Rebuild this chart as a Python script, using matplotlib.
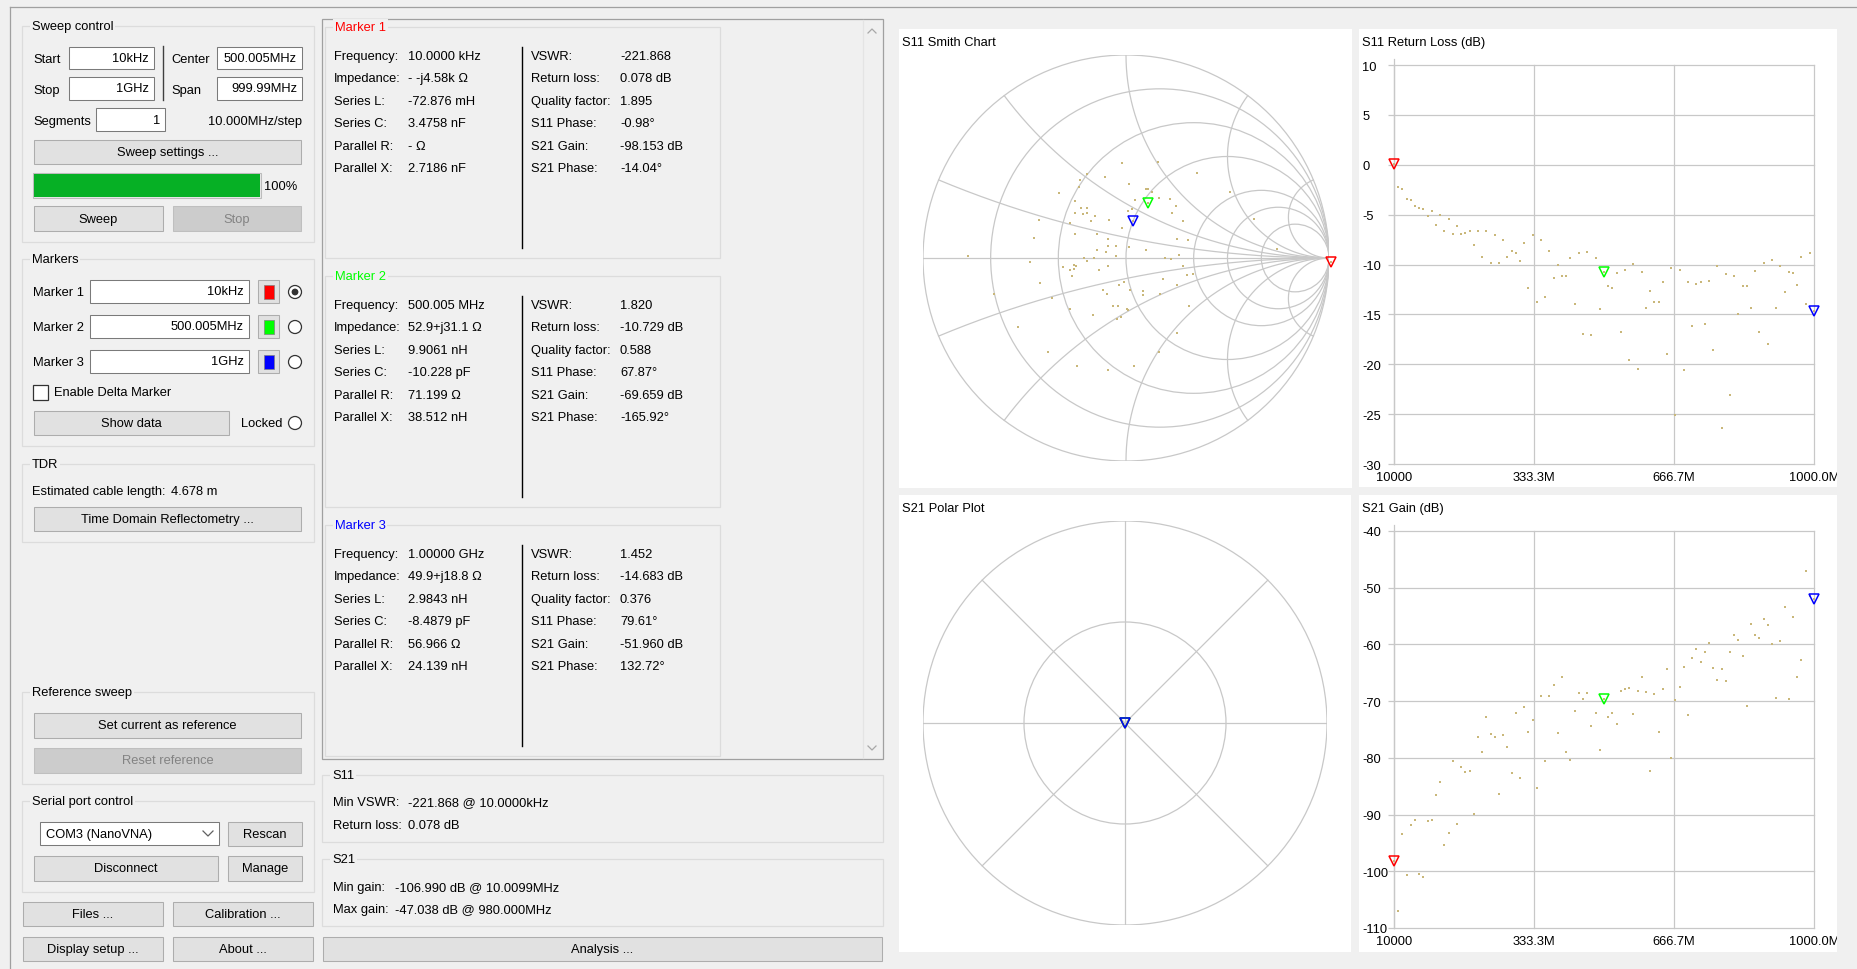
import numpy as np
import matplotlib
matplotlib.use('Agg')
import matplotlib.pyplot as plt
from matplotlib.patches import Rectangle, Circle

W, H = 1858, 970
FS = 9.3
BG = '#f0f0f0'
GRID = '#c8c8c8'
DOT = '#c9b77a'
plt.rcParams['font.family'] = ['Liberation Sans', 'DejaVu Sans']

# Sweep settings
start_hz = 10e3
stop_hz = 1e9
n_points = 101

# Markers
marker_names = ['Marker 1', 'Marker 2', 'Marker 3']
marker_colors = ['#ff0000', '#00ff00', '#0000ff']
marker_entry = ['10kHz', '500.005MHz', '1GHz']
marker_index = [0, 50, 100]
marker_freq = ['10.0000 kHz', '500.005 MHz', '1.00000 GHz']
marker_impedance = ['- -j4.58k Ω', '52.9+j31.1 Ω', '49.9+j18.8 Ω']
marker_series_l = ['-72.876 mH', '9.9061 nH', '2.9843 nH']
marker_series_c = ['3.4758 nF', '-10.228 pF', '-8.4879 pF']
marker_parallel_r = ['- Ω', '71.199 Ω', '56.966 Ω']
marker_parallel_x = ['2.7186 nF', '38.512 nH', '24.139 nH']
marker_vswr = [-221.868, 1.820, 1.452]
marker_return_loss = [0.078, -10.729, -14.683]
marker_q = [1.895, 0.588, 0.376]
marker_s11_phase = [-0.98, 67.87, 79.61]
marker_s21_gain = [-98.153, -69.659, -51.960]
marker_s21_phase = [-14.04, -165.92, 132.72]

# S11 return loss (dB), one value per sweep point
return_loss = [0.078, -2.23, -2.43, -3.40, -3.50, -4.13, -4.33, -4.47, -5.13, -4.67,
               -6.00, -5.07, -6.67, -5.40, -6.93, -6.13, -6.93, -6.80, -6.60, -8.00,
               -6.67, -9.20, -6.60, -9.80, -7.07, -9.80, -7.53, -9.20, -8.60, -8.87,
               -9.67, -7.80, -12.40, -7.07, -13.73, -7.53, -13.27, -8.60, -11.33, -10.07,
               -11.20, -11.20, -9.33, -13.93, -8.87, -16.93, -8.73, -17.07, -9.33, -14.47,
               -10.729, -12.13, -12.40, -10.87, -16.80, -10.53, -19.53, -9.93, -20.47, -10.73,
               -14.33, -12.67, -13.80, -13.80, -11.80, -18.93, -10.40, -25.13, -10.53, -20.60,
               -11.80, -16.20, -11.93, -11.80, -15.93, -11.67, -18.60, -10.13, -26.40, -11.00,
               -23.13, -11.20, -14.93, -12.13, -12.13, -14.40, -10.67, -16.80, -9.80, -18.00,
               -9.53, -14.33, -10.13, -12.73, -10.73, -10.87, -12.07, -9.20, -13.93, -8.87,
               -14.683]

# S21 gain (dB)
s21_gain = [-98.153, -106.990, -93.34, -100.67, -91.88, -90.88, -100.49, -101.08, -91.11, -90.88,
            -86.48, -84.26, -95.28, -93.17, -80.62, -91.70, -81.68, -82.50, -82.32, -89.82,
            -76.28, -78.98, -72.71, -75.87, -76.28, -86.31, -76.05, -78.16, -82.73, -72.12,
            -83.55, -71.07, -75.46, -73.35, -85.25, -69.13, -80.62, -69.13, -67.08, -75.64,
            -65.67, -78.98, -80.45, -71.65, -68.55, -69.60, -68.55, -74.41, -72.12, -78.57,
            -69.659, -72.71, -72.12, -74.00, -68.14, -67.84, -67.73, -72.30, -68.14, -65.79,
            -68.31, -82.32, -68.72, -75.46, -67.84, -64.38, -80.03, -69.84, -67.55, -63.92,
            -72.53, -62.45, -60.81, -63.15, -61.40, -59.75, -64.15, -66.26, -64.33, -66.49,
            -61.40, -58.29, -59.17, -62.10, -70.89, -56.41, -58.29, -58.87, -55.53, -56.59,
            -59.93, -69.43, -59.34, -53.48, -69.60, -55.18, -65.79, -62.68, -47.038, -51.43,
            -51.960]

# S11 reflection coefficient points (real, imag)
smith_re = [-0.021, 0.160, 0.351, -0.194, -0.104, -0.227, 0.015, -0.232, -0.328, 0.107,
            0.097, 0.127, 0.514, 0.044, 0.165, 0.217, -0.252, 0.245, -0.222, -0.194,
            0.028, 0.008, -0.249, -0.211, -0.191, 0.229, -0.153, -0.170, 0.632, -0.430,
            -0.084, 0.280, -0.275, -0.020, -0.252, -0.145, -0.454, -0.091, 0.252, 0.303,
            -0.048, -0.091, 0.013, 0.100, -0.142, -0.097, 0.744, -0.779, 0.263, -0.051,
            -0.207, -0.158, 0.193, 0.222, -0.193, -0.472, -0.255, -0.247, -0.309, -0.258,
            -0.277, -0.091, 0.280, -0.133, 0.329, 0.300, -0.265, 0.183, -0.008, -0.426,
            -0.033, 0.250, -0.652, -0.114, 0.021, 0.084, -0.095, 0.084, 0.166, -0.365,
            -0.063, -0.038, 0.003, 0.012, -0.277, 0.311, -0.165, -0.025, -0.043, -0.530,
            0.252, -0.385, 0.165, -0.240, 0.038, -0.091]
smith_im = [0.469, 0.474, 0.421, 0.415, 0.398, 0.385, 0.364, 0.352, 0.318, 0.342,
            0.339, 0.323, 0.323, 0.288, 0.298, 0.291, 0.281, 0.257, 0.247, 0.247,
            0.240, 0.232, 0.224, 0.219, 0.224, 0.222, 0.206, 0.183, 0.194, 0.188,
            0.188, 0.183, 0.170, 0.147, 0.117, 0.117, 0.100, 0.094, 0.094, 0.087,
            0.058, 0.061, 0.053, 0.041, 0.041, 0.028, 0.046, 0.012, 0.016, 0.010,
            0.000, 0.000, 0.000, -0.007, -0.016, -0.018, -0.036, -0.041, -0.046, -0.053,
            -0.059, -0.041, -0.041, -0.058, -0.077, -0.082, -0.087, -0.105, -0.119, -0.123,
            -0.135, -0.135, -0.176, -0.156, -0.160, -0.165, -0.176, -0.183, -0.176, -0.198,
            -0.237, -0.234, -0.253, -0.257, -0.253, -0.234, -0.280, -0.291, -0.300, -0.341,
            -0.369, -0.463, -0.461, -0.533, -0.533, -0.550]

smith_r = [0.2, 0.5, 1, 2, 3, 5]
smith_x = [0.2, 0.5, 1, 2, 5]
polar_rings = [0.5, 1.0]
polar_spokes = [0, 45, 90, 135]

freqs = np.linspace(start_hz, stop_hz, n_points)
span = stop_hz - start_hz
xtick_hz = [start_hz, start_hz + span / 3, start_hz + 2 * span / 3, stop_hz]
xtick_labels = ['%d' % start_hz] + ['%.1fM' % (v / 1e6) for v in xtick_hz[1:]]

fig = plt.figure(figsize=(W / 100, H / 100), dpi=100)
fig.patch.set_facecolor(BG)
ui = fig.add_axes([0, 0, 1, 1])
ui.set_xlim(0, W)
ui.set_ylim(H, 0)
ui.axis('off')
ui.set_zorder(0)


def rect(x0, y0, x1, y1, fc='none', ec='none', lw=0.75, z=1):
    p = Rectangle((x0, y0), x1 - x0, y1 - y0, facecolor=fc, edgecolor=ec,
                  linewidth=lw, zorder=z)
    ui.add_patch(p)
    return p


def text(x, y, s, ha='left', color='black', size=FS, **kw):
    ui.text(x, y, s, ha=ha, va='center', color=color, fontsize=size, zorder=5, **kw)


def button(x0, y0, x1, y1, s, enabled=True):
    if enabled:
        rect(x0, y0, x1, y1, fc='#e1e1e1', ec='#adadad')
        text((x0 + x1) / 2, (y0 + y1) / 2, s, ha='center')
    else:
        rect(x0, y0, x1, y1, fc='#cccccc', ec='#bfbfbf')
        text((x0 + x1) / 2, (y0 + y1) / 2, s, ha='center', color='#838383')


def entry(x0, y0, x1, y1, s):
    rect(x0, y0, x1, y1, fc='white', ec='#7a7a7a')
    text(x1 - 5, (y0 + y1) / 2, s, ha='right')


def group(x0, y0, x1, y1, title, color='black'):
    rect(x0, y0, x1, y1, ec='#dcdcdc', lw=0.9)
    ui.text(x0 + 10, y0, title, ha='left', va='center', color=color, fontsize=FS, zorder=5,
            bbox=dict(boxstyle='square,pad=0.12', fc=BG, ec='none'))


def radio(cx, cy, checked=False):
    ui.add_patch(Circle((cx, cy), 6.5, fc='white', ec='#333333', lw=0.9, zorder=2))
    if checked:
        ui.add_patch(Circle((cx, cy), 3.4, fc='#333333', ec='none', zorder=3))


def px_axes(x0, y0, x1, y1):
    ax = fig.add_axes([x0 / W, 1 - y1 / H, (x1 - x0) / W, (y1 - y0) / H])
    ax.set_zorder(2)
    ax.patch.set_alpha(0)
    return ax


# window frame
ui.plot([10, W], [8, 8], color='#a0a0a0', lw=0.9)
ui.plot([10, 10], [8, H], color='#a0a0a0', lw=0.9)

# ---- left column: sweep control
group(22, 27, 314, 243, 'Sweep control')
text(33, 60, 'Start')
entry(69, 48, 154, 70, '10kHz')
text(33, 91, 'Stop')
entry(69, 78, 154, 101, '1GHz')
ui.plot([163, 163], [47, 101], color='#404040', lw=1.0)
text(171, 60, 'Center')
entry(217, 48, 302, 70, '500.005MHz')
text(171, 91, 'Span')
entry(217, 78, 302, 101, '999.99MHz')
text(33, 122, 'Segments')
entry(96, 109, 165, 132, '1')
text(302, 122, '10.000MHz/step', ha='right')
button(34, 141, 301, 165, 'Sweep settings ...')
rect(33, 174, 261, 199, fc='#e6e6e6', ec='#bcbcbc')
rect(34, 175, 260, 198, fc='#06b025')
text(264, 187, '100%')
button(34, 207, 163, 232, 'Sweep')
button(173, 207, 301, 232, 'Stop', enabled=False)

# markers
group(22, 260, 314, 447, 'Markers')
for i, yc in enumerate([293, 328, 363]):
    text(33, yc, marker_names[i])
    entry(90, yc - 12, 249, yc + 11, marker_entry[i])
    rect(258, yc - 12, 279, yc + 11, fc='#e1e1e1', ec='#adadad')
    rect(264, yc - 7, 274, yc + 7, fc=marker_colors[i], ec='#808080', lw=0.5, z=2)
    radio(295, yc, checked=(i == 0))
rect(33, 386, 48, 401, fc='white', ec='#333333', lw=0.9)
text(54, 393, 'Enable Delta Marker')
button(34, 412, 229, 436, 'Show data')
text(241, 424, 'Locked')
radio(295, 424)

# TDR
group(22, 465, 314, 543, 'TDR')
text(32, 492, 'Estimated cable length:')
text(171, 492, '4.678 m')
button(34, 508, 301, 532, 'Time Domain Reflectometry ...')

# reference sweep
group(22, 693, 314, 785, 'Reference sweep')
button(34, 714, 301, 739, 'Set current as reference')
button(34, 749, 301, 774, 'Reset reference', enabled=False)

# serial port
group(22, 802, 314, 893, 'Serial port control')
rect(40, 823, 219, 846, fc='white', ec='#7a7a7a')
text(46, 835, 'COM3 (NanoVNA)')
ui.plot([203, 208, 213], [832, 837, 832], color='#606060', lw=0.9)
button(228, 823, 302, 847, 'Rescan')
button(34, 857, 218, 882, 'Disconnect')
button(228, 857, 302, 882, 'Manage')

button(23, 903, 163, 927, 'Files ...')
button(173, 903, 313, 927, 'Calibration ...')
button(23, 938, 163, 962, 'Display setup ...')
button(173, 938, 313, 962, 'About ...')

# ---- middle column: marker readouts
rect(322, 20, 883, 760, ec='#a0a0a0', lw=0.9)
ui.plot([863, 863], [21, 759], color='#e4e4e4', lw=0.9)
ui.plot([868, 872, 876], [34, 30, 34], color='#a8a8a8', lw=0.9)
ui.plot([868, 872, 876], [747, 751, 747], color='#a8a8a8', lw=0.9)

left_labels = ['Frequency:', 'Impedance:', 'Series L:', 'Series C:', 'Parallel R:', 'Parallel X:']
right_labels = ['VSWR:', 'Return loss:', 'Quality factor:', 'S11 Phase:', 'S21 Gain:', 'S21 Phase:']
for i in range(3):
    dy = 249 * i
    group(325, 28 + dy, 720, 259 + dy, marker_names[i], color=marker_colors[i])
    left_vals = [marker_freq[i], marker_impedance[i], marker_series_l[i],
                 marker_series_c[i], marker_parallel_r[i], marker_parallel_x[i]]
    right_vals = ['%.3f' % marker_vswr[i], '%.3f dB' % marker_return_loss[i],
                  '%.3f' % marker_q[i], '%.2f°' % marker_s11_phase[i],
                  '%.3f dB' % marker_s21_gain[i], '%.2f°' % marker_s21_phase[i]]
    for k in range(6):
        yc = 57 + dy + 22.4 * k
        text(334, yc, left_labels[k])
        text(408, yc, left_vals[k])
        text(531, yc, right_labels[k])
        text(620, yc, right_vals[k])
    ui.plot([522, 522], [48 + dy, 249 + dy], color='black', lw=1.0)

group(322, 776, 883, 843, 'S11')
text(333, 803, 'Min VSWR:')
text(408, 803, '%.3f @ 10.0000kHz' % min(marker_vswr))
text(333, 826, 'Return loss:')
text(408, 826, '%.3f dB' % marker_return_loss[0])

gmin = int(np.argmin(s21_gain))
gmax = int(np.argmax(s21_gain))
group(322, 860, 883, 927, 'S21')
text(333, 888, 'Min gain:')
text(395, 888, '%.3f dB @ %.4fMHz' % (s21_gain[gmin], freqs[gmin] / 1e6))
text(333, 910, 'Max gain:')
text(395, 910, '%.3f dB @ %.3fMHz' % (s21_gain[gmax], freqs[gmax] / 1e6))
button(323, 938, 882, 962, 'Analysis ...')

# ---- chart panels
smith_panel = rect(899, 30, 1352, 489, fc='white')
rl_panel = rect(1359, 30, 1837, 488, fc='white')
polar_panel = rect(899, 496, 1351, 953, fc='white')
gain_panel = rect(1359, 496, 1837, 953, fc='white')
text(902, 43, 'S11 Smith Chart')
text(1362, 43, 'S11 Return Loss (dB)')
text(902, 509, 'S21 Polar Plot')
text(1362, 509, 'S21 Gain (dB)')


def draw_marker(ax, x, y, color):
    ax.plot([x], [y], ls='none', marker='v', ms=6.5, mfc='none', mec=color,
            mew=1.1, clip_on=False, zorder=4)


def sweep_chart(y0, y1, ylim, yticks, values, marker_vals, panel):
    ax = px_axes(1394, y0, 1814, y1)
    ax.set_xlim(freqs[0], freqs[-1])
    ax.set_ylim(*ylim)
    ax.set_xticks(xtick_hz, xtick_labels)
    ax.set_yticks(yticks, ['%d' % v for v in yticks])
    ax.grid(True, color=GRID, lw=0.9)
    for sp in ax.spines.values():
        sp.set_visible(False)
    ax.tick_params(axis='x', length=0, pad=4.7, labelsize=FS)
    ax.tick_params(axis='y', length=4.3, width=0.9, color=GRID, pad=18.7, labelsize=FS)
    for lab in ax.get_yticklabels():
        lab.set_horizontalalignment('left')
    for gl in ax.get_xgridlines() + ax.get_ygridlines():
        gl.set_clip_on(False)
    ax.get_xticklabels()[-1].set_clip_path(panel)
    ax.axvline(freqs[0], ymin=0, ymax=1 + 6.0 / (y1 - y0), color=GRID, lw=0.9, clip_on=False)
    ax.plot(freqs, values, ls='none', marker='s', ms=2.1, mew=0, color=DOT, clip_on=False)
    for i in range(3):
        draw_marker(ax, freqs[marker_index[i]], marker_vals[i], marker_colors[i])
    return ax


sweep_chart(66, 465, (-30, 10), list(range(10, -31, -5)), return_loss, marker_return_loss, rl_panel)
sweep_chart(532, 929, (-110, -40), list(range(-40, -111, -10)), s21_gain, marker_s21_gain, gain_panel)

# Smith chart
sm = px_axes(1126 - 203, 259 - 203, 1126 + 203, 259 + 203)
sm.set_xlim(-1, 1)
sm.set_ylim(-1, 1)
sm.axis('off')
sm.add_patch(Circle((0, 0), 1, fill=False, ec=GRID, lw=0.9))
sm.plot([-1, 1], [0, 0], color=GRID, lw=0.9)
for r in smith_r:
    sm.add_patch(Circle((r / (1 + r), 0), 1 / (1 + r), fill=False, ec=GRID, lw=0.9))
res = np.tan(np.linspace(0, np.pi / 2 * 0.9995, 600))
for x in smith_x:
    for sx in (x, -x):
        z = res + 1j * sx
        g = (z - 1) / (z + 1)
        sm.plot(g.real, g.imag, color=GRID, lw=0.9)
sm.plot(smith_re, smith_im, ls='none', marker='s', ms=2.1, mew=0, color=DOT, clip_on=False)
for i in range(3):
    g = 10 ** (marker_return_loss[i] / 20) * np.exp(1j * np.deg2rad(marker_s11_phase[i]))
    sm.plot([g.real], [g.imag], ls='none', marker='s', ms=2.1, mew=0, color=DOT, clip_on=False)
    draw_marker(sm, g.real, g.imag, marker_colors[i])

# S21 polar plot
po = px_axes(1125 - 202, 724 - 202, 1125 + 202, 724 + 202)
po.set_xlim(-1, 1)
po.set_ylim(-1, 1)
po.axis('off')
for rr in polar_rings:
    po.add_patch(Circle((0, 0), rr, fill=False, ec=GRID, lw=0.9))
for a in polar_spokes:
    t = np.deg2rad(a)
    po.plot([-np.cos(t), np.cos(t)], [-np.sin(t), np.sin(t)], color=GRID, lw=0.9)
for i in range(3):
    g = 10 ** (marker_s21_gain[i] / 20) * np.exp(1j * np.deg2rad(marker_s21_phase[i]))
    draw_marker(po, g.real, g.imag, marker_colors[i])

fig.savefig('out.png', dpi=100, facecolor=BG)
